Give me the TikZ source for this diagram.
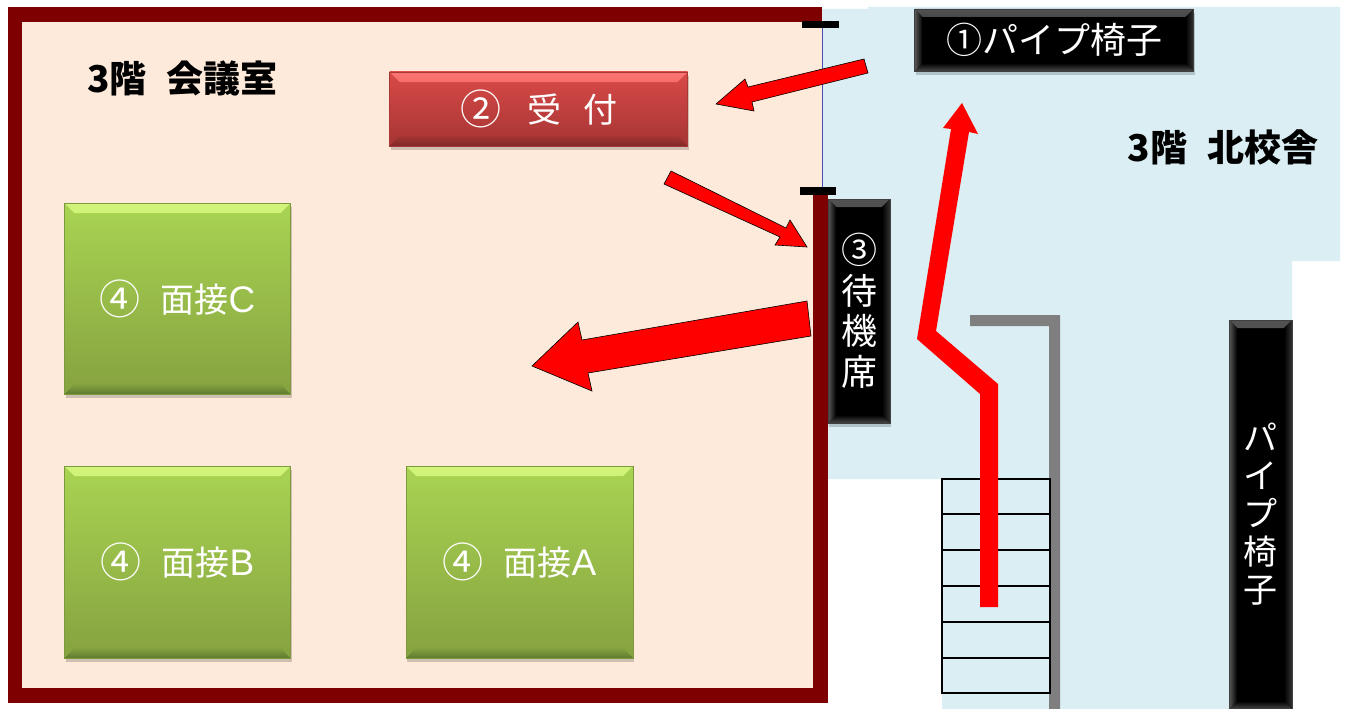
\documentclass[tikz,border=0pt]{standalone}
\usepackage{fontspec}
\setmainfont{Noto Sans CJK JP}
\newfontfamily\latinfont{Liberation Sans}
\usetikzlibrary{shadows}
\definecolor{roomfill}{HTML}{FDEADA}
\definecolor{hallfill}{HTML}{DAEEF3}
\definecolor{wallred}{HTML}{7F0000}
\definecolor{wallgray}{HTML}{7F7F7F}
\definecolor{grntop}{HTML}{A9D452}
\definecolor{grnbot}{HTML}{86A240}
\definecolor{grnedge}{HTML}{7E9A3E}
\definecolor{grnhi}{HTML}{D2F47A}
\definecolor{grnlo}{HTML}{5F7A30}
\definecolor{redtop}{HTML}{D94A48}
\definecolor{redbot}{HTML}{A53533}
\definecolor{rededge}{HTML}{A83836}
\definecolor{redhi}{HTML}{FA7472}
\definecolor{redlo}{HTML}{7E2A28}
\newcommand{\latn}[1]{{\latinfont\fontsize{37}{37}\selectfont #1}}
\newcommand{\cnum}[1]{\raisebox{-2pt}{\fontsize{41}{41}\selectfont #1}}
% top strip colours, bottom strip colours, bevel depth
\newcommand{\bevel}[5]{%
  \shade[top color=#1, bottom color=#2] (path picture bounding box.north west) -- (path picture bounding box.north east)
     -- ([xshift=-#5,yshift=-#5]path picture bounding box.north east) -- ([xshift=#5,yshift=-#5]path picture bounding box.north west) -- cycle;
  \shade[top color=#3, bottom color=#4] ([xshift=#5,yshift=#5]path picture bounding box.south west) -- ([xshift=-#5,yshift=#5]path picture bounding box.south east)
     -- (path picture bounding box.south east) -- (path picture bounding box.south west) -- cycle;
}
\newcommand{\blackbevel}{%
  \bevel{black!68}{black!97}{black}{black!72}{8pt}%
  \shade[left color=black!65, right color=black] (path picture bounding box.north west) -- ([xshift=8pt,yshift=-8pt]path picture bounding box.north west)
     -- ([xshift=8pt,yshift=8pt]path picture bounding box.south west) -- (path picture bounding box.south west) -- cycle;
  \shade[left color=black, right color=black!80] (path picture bounding box.north east) -- ([xshift=-8pt,yshift=-8pt]path picture bounding box.north east)
     -- ([xshift=-8pt,yshift=8pt]path picture bounding box.south east) -- (path picture bounding box.south east) -- cycle;
}
\tikzset{
  x=1pt, y=-1pt,
  label text/.style={font=\fontsize{34}{40}\selectfont, text=white, inner sep=0pt, align=center},
  base box/.style={label text, general shadow={shadow xshift=1pt, shadow yshift=-4pt, fill=black, opacity=.18}},
  greenbox/.style={base box, top color=grntop, bottom color=grnbot, draw=grnedge, line width=.5pt,
     path picture={\bevel{grnhi}{grntop!95!black}{grnbot}{grnlo}{10pt}}},
  redbox/.style={base box, top color=redtop, bottom color=redbot, draw=rededge, line width=.5pt,
     path picture={\bevel{redhi}{redtop}{redbot}{redlo}{10pt}}},
  blackbox/.style={base box, fill=black, draw=black!75, line width=.5pt,
     path picture={\blackbevel}},
  floor title/.style={font=\fontsize{37}{42}\selectfont\bfseries, text=black, inner sep=0pt},
  redarrow/.style={fill=red, draw=black, line width=.6pt, line join=miter},
  stair/.style={draw=black, line width=2.4pt}
}
\begin{document}
\begin{tikzpicture}
\useasboundingbox (0,0) rectangle (1346,709);
\fill[white] (0,0) rectangle (1346,709);
% hall
\fill[hallfill] (822,9) -- (868,9) -- (868,7) -- (1340,7) -- (1340,261) -- (1292,261) -- (1292,709)
  -- (942,709) -- (942,479) -- (822,479) -- cycle;
% room
\fill[wallred] (8,7) rectangle (822,703);
\fill[wallred] (813,193) rectangle (828,703);
\fill[roomfill] (22,22) rectangle (813,688);
\fill[roomfill] (813,22) rectangle (822,193);
\draw[blue!40!gray, line width=.6pt] (822,28) -- (822,187);
% door ticks
\fill[black] (802,21) rectangle (839,28);
\fill[black] (800,187) rectangle (836,195);
% gray wall
\fill[wallgray] (970,315) -- (1060,315) -- (1060,709) -- (1049,709) -- (1049,326) -- (970,326) -- cycle;
% stairs
\draw[stair] (942,479) rectangle (1050,693);
\foreach \yy in {514,550,586,622,658} \draw[stair] (942,\yy) -- (1050,\yy);
% boxes
\node[redbox, minimum width=298pt, minimum height=74pt] (reception) at (538.5,109) {\cnum{②}\hspace{26pt}受\hspace{22pt}付};
\node[greenbox, minimum width=226pt, minimum height=191pt] (roomc) at (177.5,298.5) {\cnum{④}\hspace{20pt}面接\latn{C}};
\node[greenbox, minimum width=226pt, minimum height=192pt] (roomb) at (177.5,562) {\cnum{④}\hspace{20pt}面接\latn{B}};
\node[greenbox, minimum width=227pt, minimum height=192pt] (rooma) at (519.5,562) {\cnum{④}\hspace{20pt}面接\latn{A}};
\node[blackbox, minimum width=279pt, minimum height=62pt, font=\fontsize{36}{40}\selectfont] (chairs) at (1054,40) {①パイプ椅子};
\node[blackbox, minimum width=62pt, minimum height=224pt, font=\fontsize{36}{40.5}\selectfont] (waiting) at (859,311) {③\\待\\機\\席};
\node[blackbox, minimum width=63pt, minimum height=389pt, font=\fontsize{34}{38}\selectfont] (chairs2) at (1260.5,514.5) {パ\\イ\\プ\\椅\\子};
% titles
\node[floor title] (titleroom) at (182.5,78) {3階\hspace{20pt}会議室};
\node[floor title] (titlehall) at (1223,147) {3階\hspace{20pt}北校舎};
% route
\fill[red] (980,607) -- (998,607) -- (998,384) -- (936,331) -- (969,132) -- (978,134) -- (962,103)
  -- (943,128) -- (951,129) -- (917,339) -- (980,394) -- cycle;
% arrows
\path[redarrow] (868,73) -- (864,59) -- (748,87) -- (745,79) -- (716,104) -- (754,111) -- (752,102) -- cycle;
\path[redarrow] (664,184) -- (671,171) -- (786,228) -- (790,220) -- (807,247) -- (775,245) -- (780,237) -- cycle;
\path[redarrow] (811,336) -- (807,301) -- (582,340) -- (578,322) -- (532,366) -- (592,391) -- (588,373) -- cycle;
\end{tikzpicture}
\end{document}
